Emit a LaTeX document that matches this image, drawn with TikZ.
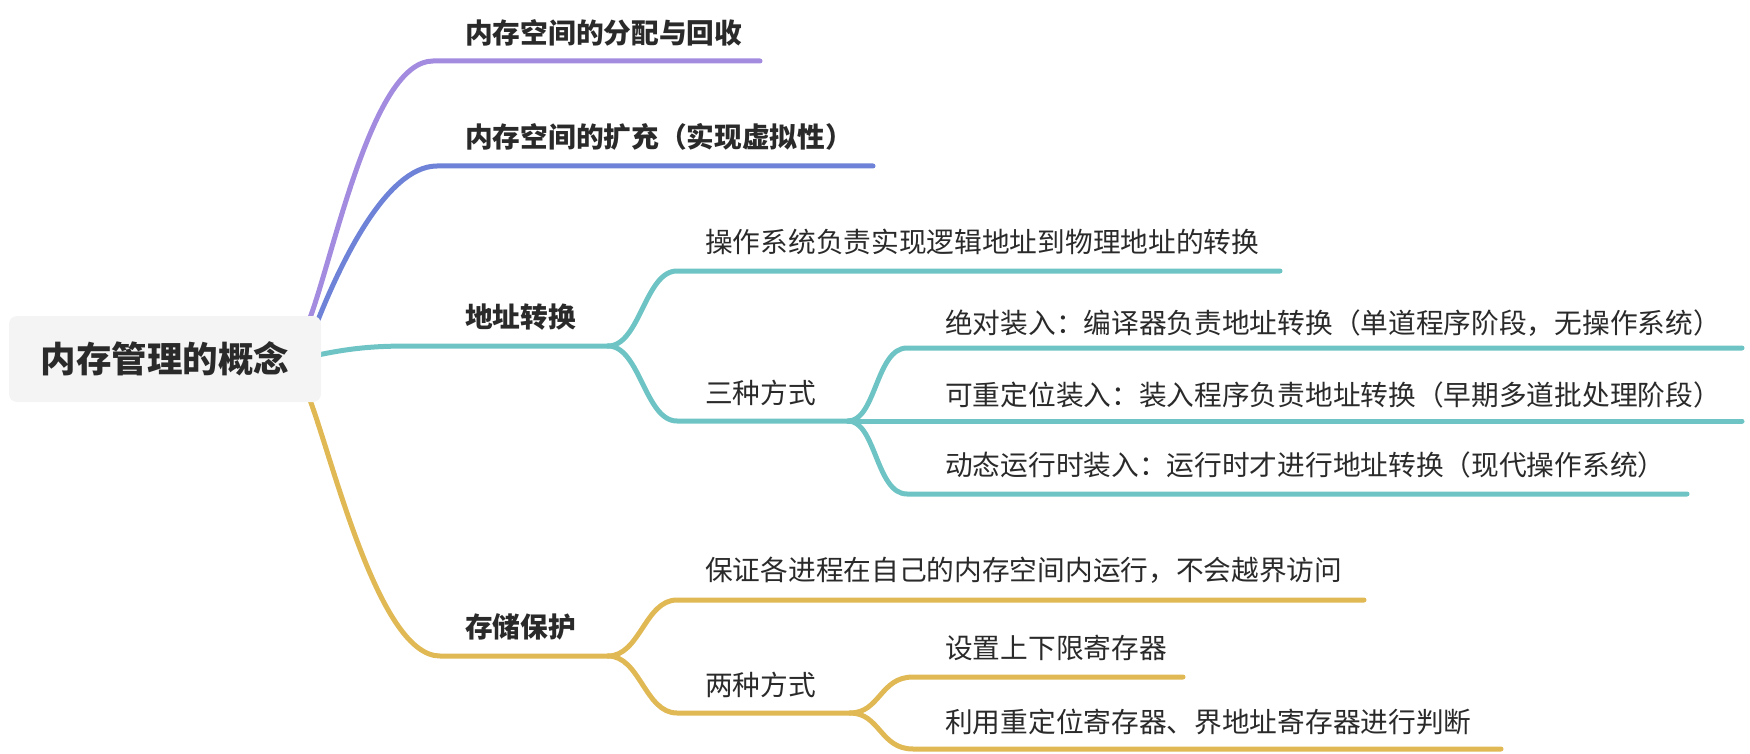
\documentclass[tikz,border=0pt]{standalone}
\usepackage{fontspec}
\setmainfont{Noto Sans CJK SC}
\newfontfamily\cjk{Noto Sans CJK SC}
\definecolor{txt}{HTML}{2A2A2A}
\definecolor{purp}{HTML}{A38BE0}
\definecolor{blu}{HTML}{6E83D8}
\definecolor{teal2}{HTML}{6EC4C4}
\definecolor{yel}{HTML}{E0B955}
\definecolor{rootbg}{HTML}{F4F4F4}
\pgfdeclarelayer{bg}
\pgfsetlayers{bg,main}
\tikzset{
  rootbox/.style={fill=rootbg, rounded corners=8pt, minimum width=312pt, minimum height=86pt, inner sep=0pt, text=txt, font=\cjk\bfseries\fontsize{35.5}{42}\selectfont},
  lvlone/.style={anchor=west, inner sep=0pt, text=txt, font=\cjk\bfseries\fontsize{27.7}{33}\selectfont},
  lvltwo/.style={anchor=west, inner sep=0pt, text=txt, font=\cjk\fontsize{27.7}{33}\selectfont},
  branch/.style={line width=5pt, line cap=round, line join=round},
}
\begin{document}
\begin{tikzpicture}[x=1pt,y=-1pt]
\useasboundingbox (0,0) rectangle (1750,754);
% root
\node[rootbox] (root) at (165,359) {内存管理的概念};
% labels
\node[lvlone] (n1) at (465,33) {内存空间的分配与回收};
\node[lvlone] (n2) at (465,137) {内存空间的扩充（实现虚拟性）};
\node[lvlone] (n3) at (465,317) {地址转换};
\node[lvlone] (n4) at (465,627) {存储保护};
\node[lvltwo] (n31) at (705,242) {操作系统负责实现逻辑地址到物理地址的转换};
\node[lvltwo] (n32) at (705,393) {三种方式};
\node[lvltwo] (n321) at (945,323) {绝对装入：编译器负责地址转换（单道程序阶段，无操作系统）};
\node[lvltwo] (n322) at (945,395) {可重定位装入：装入程序负责地址转换（早期多道批处理阶段）};
\node[lvltwo] (n323) at (945,465) {动态运行时装入：运行时才进行地址转换（现代操作系统）};
\node[lvltwo] (n41) at (705,570) {保证各进程在自己的内存空间内运行，不会越界访问};
\node[lvltwo] (n42) at (705,685) {两种方式};
\node[lvltwo] (n421) at (945,648) {设置上下限寄存器};
\node[lvltwo] (n422) at (945,722) {利用重定位寄存器、界地址寄存器进行判断};
% coordinates
\coordinate (p0) at (310,318);
\coordinate (p1) at (433,61);
\coordinate (p2) at (760,61);
\coordinate (b0) at (318,320);
\coordinate (b1) at (437,166);
\coordinate (b2) at (873,166);
\coordinate (t0) at (318,355);
\coordinate (t1) at (413,346);
\coordinate (tj) at (608,346);
\coordinate (ta1) at (677,271);
\coordinate (ta2) at (1280,271);
\coordinate (tb1) at (677,421);
\coordinate (tbj) at (848,421);
\coordinate (c1a) at (907,348);
\coordinate (c1b) at (1742,348);
\coordinate (c2b) at (1742,421);
\coordinate (c3a) at (907,494);
\coordinate (c3b) at (1687,494);
\coordinate (y0) at (310,400);
\coordinate (y1) at (440,656);
\coordinate (yj) at (608,656);
\coordinate (ya1) at (677,600);
\coordinate (ya2) at (1364,600);
\coordinate (yb1) at (677,713);
\coordinate (ybj) at (850,713);
\coordinate (yc1) at (913,677);
\coordinate (yc2) at (1183,677);
\coordinate (yd1) at (913,749);
\coordinate (yd2) at (1501,749);
\begin{pgfonlayer}{bg}
\draw[branch, purp] (p0) .. controls +(25,-68) and +(-60,0) .. (p1) -- (p2);
\draw[branch, blu] (b0) .. controls +(20,-50) and +(-52,0) .. (b1) -- (b2);
\draw[branch, teal2] (t0) .. controls +(38,-8) and +(-33,0) .. (t1) -- (tj);
\draw[branch, teal2] (tj) .. controls +(32,0) and +(-32,0) .. (ta1) -- (ta2);
\draw[branch, teal2] (tj) .. controls +(32,0) and +(-32,0) .. (tb1) -- (tbj);
\draw[branch, teal2] (tbj) .. controls +(28,0) and +(-31,0) .. (c1a) -- (c1b);
\draw[branch, teal2] (tbj) -- (c2b);
\draw[branch, teal2] (tbj) .. controls +(28,0) and +(-31,0) .. (c3a) -- (c3b);
\draw[branch, yel] (y0) .. controls +(25,68) and +(-60,0) .. (y1) -- (yj);
\draw[branch, yel] (yj) .. controls +(32,0) and +(-32,0) .. (ya1) -- (ya2);
\draw[branch, yel] (yj) .. controls +(32,0) and +(-32,0) .. (yb1) -- (ybj);
\draw[branch, yel] (ybj) .. controls +(30,0) and +(-33,0) .. (yc1) -- (yc2);
\draw[branch, yel] (ybj) .. controls +(30,0) and +(-33,0) .. (yd1) -- (yd2);
\end{pgfonlayer}
\end{tikzpicture}
\end{document}
